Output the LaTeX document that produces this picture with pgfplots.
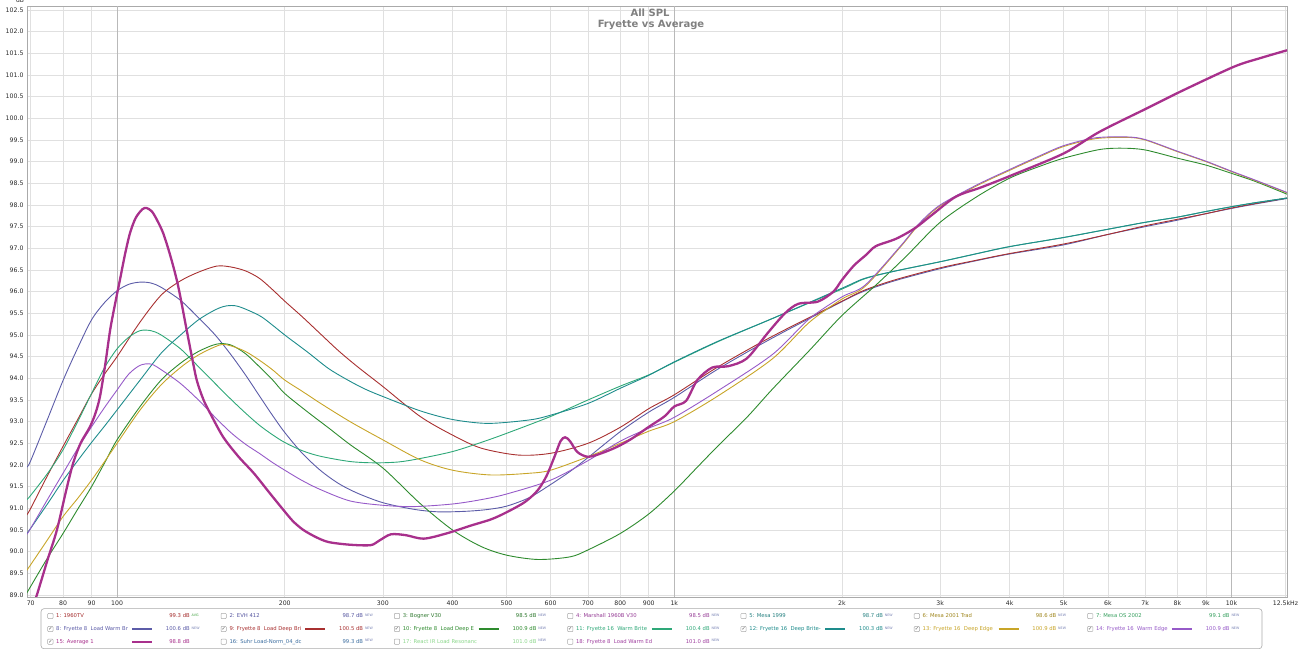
\documentclass[border=0pt]{standalone}
\usepackage{pgfplots}
\pgfplotsset{compat=1.18}
\usepackage{fontspec}
\setmainfont{DejaVu Sans}
\definecolor{c8}{RGB}{92,92,168}
\definecolor{c9}{RGB}{168,48,48}
\definecolor{c10}{RGB}{46,139,46}
\definecolor{c11}{RGB}{46,168,120}
\definecolor{c12}{RGB}{30,140,140}
\definecolor{c13}{RGB}{200,165,40}
\definecolor{c14}{RGB}{150,90,200}
\definecolor{c15}{RGB}{168,48,140}
\definecolor{l1}{RGB}{165,45,45}
\definecolor{l2}{RGB}{85,85,160}
\definecolor{l3}{RGB}{45,120,45}
\definecolor{l4}{RGB}{150,60,150}
\definecolor{l5}{RGB}{40,130,130}
\definecolor{l6}{RGB}{160,135,30}
\definecolor{l7}{RGB}{55,160,95}
\definecolor{l16}{RGB}{60,110,160}
\definecolor{l17}{RGB}{140,215,140}
\definecolor{l18}{RGB}{160,64,160}
\definecolor{newc}{RGB}{120,130,180}
\definecolor{avgc}{RGB}{60,160,60}
\definecolor{framegray}{RGB}{170,170,170}
\definecolor{gridgray}{RGB}{224,224,224}
\definecolor{decgray}{RGB}{185,185,185}
\definecolor{ticktext}{RGB}{40,40,40}
\definecolor{titlegray}{RGB}{128,128,128}
\definecolor{cbgray}{RGB}{170,170,170}
\definecolor{ckgray}{RGB}{80,80,80}
\newcommand{\legfont}{\fontsize{5.3}{6}\selectfont}
\newcommand{\supfont}{\fontsize{3.3}{4}\selectfont}
\newcommand{\legentry}[8]{%
  \pgfmathsetmacro{\bx}{48+173.3*#1}%
  \draw[draw=cbgray, fill=white, rounded corners=0.8pt, line width=0.5pt] ({\bx pt-0.3pt},{#2pt-2.6pt}) rectangle ({\bx pt+5pt},{#2pt+2.6pt});%
  \ifnum#7=1 \node[inner sep=0pt, font=\fontsize{5}{5}\selectfont, text=ckgray] at ({\bx pt+2.4pt},{#2pt+0.2pt}) {✓};\fi
  \node[anchor=base west, inner sep=0pt, font=\legfont, text=#3] at ({\bx pt+8pt},{#2pt-1.9pt}) {#4};%
  \ifdim#8pt>0pt \draw[draw=#3, line width=#8pt] ({\bx pt+84pt},{#2pt}) -- ({\bx pt+104pt},{#2pt});\fi
  \node[anchor=base east, inner sep=0pt, font=\legfont, text=#3] at ({\bx pt+142pt},{#2pt-1.9pt}) {#5};%
  \node[anchor=base west, inner sep=0pt, font=\supfont] at ({\bx pt+143.5pt},{#2pt-0.2pt}) {#6};%
}
\begin{document}
\begin{tikzpicture}
\path[use as bounding box] (0,0) rectangle (1300pt,650pt);
\begin{axis}[
  at={(27pt,53pt)}, anchor=south west,
  scale only axis, width=1260pt, height=591pt,
  xmode=log, log basis x=10,
  xmin=68.94, xmax=12578, ymin=88.954, ymax=102.592,
  axis line style={draw=framegray, line width=0.8pt},
  xtick={70,80,90,200,300,400,500,600,700,800,900,2000,3000,4000,5000,6000,7000,8000,9000,12500},
  xticklabels={70,80,90,200,300,400,500,600,700,800,900,2k,3k,4k,5k,6k,7k,8k,9k,12.5kHz},
  extra x ticks={100,1000,10000},
  extra x tick labels={100,1k,10k},
  extra x tick style={major grid style={draw=decgray, line width=0.8pt}},
  ytick distance=0.5,
  yticklabel style={/pgf/number format/.cd, fixed, fixed zerofill, precision=1},
  /pgf/number format/assume math mode=true,
  major tick length=0pt,
  tick label style={font=\fontsize{6.2}{7}\selectfont, text=ticktext},
  xmajorgrids, ymajorgrids,
  major grid style={draw=gridgray, line width=0.6pt},
  clip=true,
]
% 8 Fryette 8 Load Warm Br
\addplot[c8, line width=0.9pt, smooth, tension=0.5] coordinates {
(68.9,91.95)(70,92.1)(75,93.05)(80,93.95)(85,94.7)(90,95.35)(95,95.75)(100,96.02)(105,96.17)(110,96.22)(115,96.2)(120,96.1)(130,95.8)(140,95.4)(150,95.0)(160,94.55)(170,94.08)(180,93.6)(190,93.15)(200,92.75)(215,92.27)(232,91.87)(250,91.57)(270,91.35)(300,91.13)(340,90.98)(376,90.92)(420,90.93)(460,90.97)(500,91.05)(550,91.25)(600,91.55)(650,91.85)(700,92.17)(800,92.77)(900,93.22)(1000,93.56)(1200,94.22)(1500,94.93)(2000,95.77)(2200,96.02)(2500,96.26)(3000,96.53)(3500,96.72)(4000,96.87)(5000,97.08)(6000,97.32)(7000,97.5)(8000,97.65)(9000,97.8)(10000,97.92)(11000,98.02)(12578,98.15)};
% 9 Fryette 8 Load Deep Bri
\addplot[c9, line width=0.9pt, smooth, tension=0.5] coordinates {
(68.9,90.85)(70,91.0)(75,91.75)(80,92.43)(85,93.05)(90,93.64)(95,94.1)(100,94.5)(110,95.3)(120,95.92)(130,96.25)(140,96.45)(151,96.59)(160,96.57)(170,96.48)(180,96.31)(190,96.05)(200,95.78)(215,95.42)(232,95.02)(250,94.63)(270,94.27)(300,93.81)(350,93.12)(400,92.69)(450,92.39)(524,92.23)(600,92.27)(700,92.5)(800,92.87)(900,93.3)(1000,93.62)(1200,94.27)(1500,94.97)(2000,95.78)(2200,96.04)(2500,96.28)(3000,96.55)(3500,96.73)(4000,96.88)(5000,97.1)(6000,97.32)(7000,97.52)(8000,97.67)(9000,97.8)(10000,97.93)(11000,98.03)(12578,98.16)};
% 10 Fryette 8 Load Deep E
\addplot[c10, line width=0.9pt, smooth, tension=0.5] coordinates {
(68.9,89.05)(70,89.2)(75,89.85)(80,90.42)(85,90.98)(90,91.5)(95,92.05)(100,92.58)(110,93.35)(120,93.96)(130,94.35)(140,94.62)(151,94.79)(160,94.77)(170,94.57)(180,94.27)(190,93.97)(200,93.65)(220,93.22)(240,92.85)(262,92.47)(300,91.93)(350,91.11)(400,90.5)(450,90.12)(500,89.92)(569,89.82)(650,89.88)(700,90.04)(800,90.42)(900,90.87)(1000,91.4)(1100,91.95)(1200,92.45)(1350,93.1)(1500,93.75)(1750,94.65)(2000,95.45)(2300,96.15)(2600,96.8)(3000,97.6)(3500,98.2)(4000,98.62)(4500,98.88)(5000,99.08)(5800,99.28)(6400,99.31)(7000,99.27)(8000,99.08)(9000,98.92)(10000,98.73)(11000,98.55)(12578,98.25)};
% 11 Fryette 16 Warm Brite
\addplot[c11, line width=0.9pt, smooth, tension=0.5] coordinates {
(68.9,91.2)(70,91.3)(75,91.8)(80,92.35)(85,93.0)(90,93.65)(95,94.25)(100,94.68)(105,94.95)(110,95.1)(115,95.1)(120,95.0)(130,94.68)(140,94.27)(150,93.88)(160,93.52)(170,93.2)(180,92.92)(190,92.7)(200,92.52)(215,92.33)(232,92.2)(262,92.08)(290,92.05)(320,92.07)(350,92.15)(400,92.31)(450,92.52)(500,92.73)(600,93.12)(700,93.5)(800,93.82)(900,94.08)(1000,94.37)(1200,94.85)(1500,95.38)(2000,96.06)(2200,96.3)(2500,96.48)(3000,96.69)(3500,96.88)(4000,97.04)(5000,97.25)(6000,97.44)(7000,97.6)(8000,97.72)(9000,97.85)(10000,97.96)(11000,98.05)(12578,98.16)};
% 12 Fryette 16 Deep Brite
\addplot[c12, line width=0.9pt, smooth, tension=0.5] coordinates {
(68.9,90.42)(70,90.54)(75,91.1)(80,91.64)(85,92.1)(90,92.52)(95,92.9)(100,93.27)(110,93.96)(120,94.58)(130,95.0)(140,95.35)(150,95.58)(157,95.67)(165,95.66)(180,95.45)(190,95.23)(200,95.0)(220,94.6)(240,94.22)(262,93.93)(280,93.74)(300,93.58)(350,93.25)(400,93.05)(463,92.96)(550,93.04)(600,93.15)(700,93.42)(800,93.77)(900,94.07)(1000,94.38)(1200,94.86)(1500,95.38)(2000,96.08)(2200,96.31)(2500,96.48)(3000,96.69)(3500,96.88)(4000,97.04)(5000,97.25)(6000,97.44)(7000,97.6)(8000,97.72)(9000,97.85)(10000,97.96)(11000,98.05)(12578,98.16)};
% 13 Fryette 16 Deep Edge
\addplot[c13, line width=0.9pt, smooth, tension=0.5] coordinates {
(68.9,89.57)(70,89.7)(75,90.27)(80,90.81)(85,91.23)(90,91.65)(95,92.08)(100,92.5)(110,93.27)(120,93.85)(130,94.25)(140,94.54)(153,94.77)(160,94.75)(170,94.62)(180,94.42)(190,94.2)(200,93.96)(215,93.7)(232,93.42)(262,93.0)(300,92.58)(350,92.12)(400,91.88)(468,91.77)(550,91.81)(600,91.88)(700,92.19)(800,92.5)(900,92.78)(1000,93.0)(1200,93.6)(1500,94.45)(1750,95.3)(2000,95.83)(2200,96.12)(2550,97.04)(2750,97.55)(3000,97.98)(3500,98.45)(4000,98.8)(4500,99.1)(5000,99.35)(5700,99.53)(6500,99.56)(7000,99.5)(8000,99.23)(9000,99.0)(10000,98.77)(11000,98.57)(12578,98.28)};
% 14 Fryette 16 Warm Edge
\addplot[c14, line width=0.9pt, smooth, tension=0.5] coordinates {
(68.9,90.4)(70,90.54)(75,91.2)(80,91.81)(85,92.38)(90,92.88)(95,93.33)(100,93.73)(105,94.1)(110,94.3)(115,94.33)(120,94.2)(130,93.88)(140,93.5)(150,93.1)(160,92.75)(170,92.48)(180,92.27)(190,92.06)(200,91.88)(215,91.64)(232,91.43)(262,91.17)(300,91.07)(341,91.04)(400,91.1)(450,91.2)(500,91.33)(600,91.65)(700,92.1)(800,92.55)(900,92.85)(1000,93.1)(1200,93.72)(1500,94.55)(1750,95.38)(2000,95.88)(2200,96.15)(2550,97.06)(2750,97.57)(3000,98.0)(3500,98.47)(4000,98.82)(4500,99.12)(5000,99.37)(5700,99.55)(6500,99.57)(7000,99.51)(8000,99.24)(9000,99.01)(10000,98.78)(11000,98.58)(12578,98.29)};
% 15 Average 1
\addplot[c15, line width=2.3pt, smooth, tension=0.5] coordinates {
(68.9,88.3)(72,89.05)(75,89.8)(78,90.5)(81,91.4)(83.4,92.04)(86,92.5)(89.4,92.88)(91.5,93.2)(93.2,93.58)(95.2,94.3)(97.2,95.12)(99.2,95.72)(101.2,96.27)(103.3,96.85)(105.5,97.35)(108,97.7)(111,97.9)(113,97.93)(115.5,97.85)(118,97.65)(121,97.35)(124.5,96.85)(128,96.27)(130.5,95.75)(133,95.19)(136,94.55)(139,93.96)(143,93.5)(147,93.19)(155,92.65)(165,92.2)(176,91.81)(188,91.35)(199,90.96)(207,90.7)(216,90.5)(228,90.33)(240,90.22)(262,90.16)(285,90.15)(295,90.25)(310,90.4)(330,90.38)(355,90.3)(390,90.42)(431,90.6)(470,90.75)(502,90.92)(540,91.15)(569,91.42)(590,91.75)(610,92.2)(625,92.55)(637,92.64)(650,92.55)(670,92.3)(700,92.19)(740,92.27)(790,92.42)(837,92.6)(900,92.88)(960,93.12)(1000,93.35)(1050,93.48)(1100,93.96)(1170,94.25)(1250,94.28)(1350,94.46)(1470,95.04)(1580,95.5)(1670,95.72)(1810,95.77)(1930,96.0)(2000,96.27)(2100,96.6)(2210,96.85)(2300,97.05)(2500,97.22)(2700,97.46)(2900,97.77)(3200,98.19)(3560,98.41)(4040,98.69)(5000,99.19)(5800,99.69)(7100,100.25)(8200,100.65)(10100,101.19)(11200,101.38)(12578,101.57)};
\end{axis}
% titles
\node[font=\bfseries\fontsize{10}{12}\selectfont, text=titlegray, inner sep=0pt] at (650pt,637pt) {All SPL};
\node[font=\bfseries\fontsize{10}{12}\selectfont, text=titlegray, inner sep=0pt] at (651pt,625pt) {Fryette vs Average};
\node[font=\fontsize{6}{7}\selectfont, text=ticktext, anchor=south, inner sep=0pt] at (20pt,647.5pt) {dB};
% legend box
\draw[draw=framegray, line width=0.6pt, rounded corners=3pt, fill=white] (41pt,1.3pt) rectangle (1262pt,41.3pt);
% row 1
\legentry{0}{34}{l1}{1: 1960TV}{99.3 dB}{\textcolor{avgc}{AVG}}{0}{0}
\legentry{1}{34}{l2}{2: EVH 412}{98.7 dB}{\textcolor{newc}{NEW}}{0}{0}
\legentry{2}{34}{l3}{3: Bogner V30}{98.5 dB}{\textcolor{newc}{NEW}}{0}{0}
\legentry{3}{34}{l4}{4: Marshall 1960B V30}{98.5 dB}{\textcolor{newc}{NEW}}{0}{0}
\legentry{4}{34}{l5}{5: Mesa 1999}{98.7 dB}{\textcolor{newc}{NEW}}{0}{0}
\legentry{5}{34}{l6}{6: Mesa 2001 Trad}{98.6 dB}{\textcolor{newc}{NEW}}{0}{0}
\legentry{6}{34}{l7}{7: Mesa OS 2002}{99.1 dB}{\textcolor{newc}{NEW}}{0}{0}
% row 2
\legentry{0}{21}{c8}{8: Fryette 8\ \ Load Warm Br}{100.6 dB}{\textcolor{newc}{NEW}}{1}{1.2}
\legentry{1}{21}{c9}{9: Fryette 8\ \ Load Deep Bri}{100.5 dB}{\textcolor{newc}{NEW}}{1}{1.2}
\legentry{2}{21}{c10}{10: Fryette 8\ \ Load Deep E}{100.9 dB}{\textcolor{newc}{NEW}}{1}{1.2}
\legentry{3}{21}{c11}{11: Fryette 16\ \ Warm Brite}{100.4 dB}{\textcolor{newc}{NEW}}{1}{1.2}
\legentry{4}{21}{c12}{12: Fryette 16\ \ Deep Brite-}{100.3 dB}{\textcolor{newc}{NEW}}{1}{1.2}
\legentry{5}{21}{c13}{13: Fryette 16\ \ Deep Edge}{100.9 dB}{\textcolor{newc}{NEW}}{1}{1.2}
\legentry{6}{21}{c14}{14: Fryette 16\ \ Warm Edge}{100.9 dB}{\textcolor{newc}{NEW}}{1}{1.2}
% row 3
\legentry{0}{8.3}{c15}{15: Average 1}{98.8 dB}{}{1}{2.3}
\legentry{1}{8.3}{l16}{16: Suhr Load-Norm\_04\_dc}{99.3 dB}{\textcolor{newc}{NEW}}{0}{0}
\legentry{2}{8.3}{l17}{17: React IR Load Resonanc}{101.0 dB}{\textcolor{newc}{NEW}}{0}{0}
\legentry{3}{8.3}{l18}{18: Fryette 8\ \ Load Warm Ed}{101.0 dB}{\textcolor{newc}{NEW}}{0}{0}
\end{tikzpicture}
\end{document}
